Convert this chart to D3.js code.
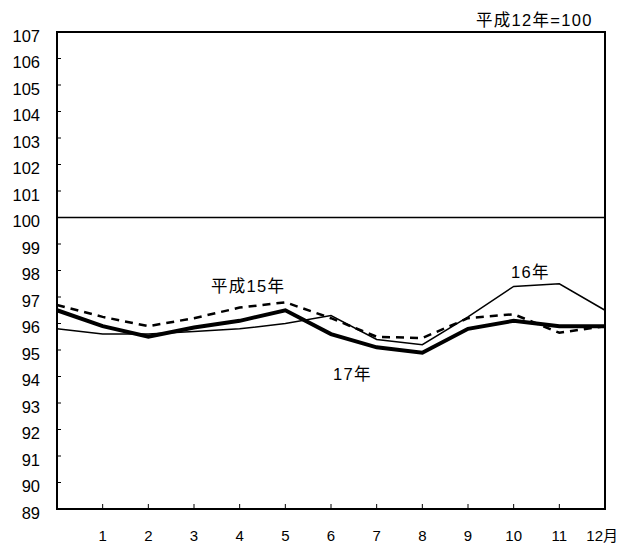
<!DOCTYPE html>
<html><head><meta charset="utf-8">
<script src="https://cdn.jsdelivr.net/npm/d3@7"></script>
<style>body{margin:0;background:#fff}text{font-family:"Liberation Sans",Arial,"Noto Sans CJK JP",sans-serif;fill:#000}</style>
</head><body><svg id="c" width="621" height="545"></svg>
<script>
const positions = [0,1,2,3,4,5,6,7,8,9,10,11,12];
const monthLabels = ["1","2","3","4","5","6","7","8","9","10","11","12月"];
const yTicks = [89,90,91,92,93,94,95,96,97,98,99,100,101,102,103,104,105,106,107];
const h15 = [96.7,96.25,95.9,96.2,96.6,96.8,96.2,95.5,95.45,96.2,96.35,95.65,95.9];
const h16 = [95.8,95.6,95.6,95.7,95.8,96.0,96.3,95.4,95.2,96.25,97.4,97.5,96.5];
const h17 = [96.5,95.9,95.5,95.85,96.1,96.5,95.6,95.1,94.9,95.8,96.1,95.9,95.9];

const svg = d3.select("#c");
const L=57,R=605,T=32,B=509;
const x = d3.scaleLinear().domain([0,12]).range([L,R]);
const y = d3.scaleLinear().domain([89,107]).range([B,T]);

svg.selectAll(".yl").data(yTicks).enter().append("text")
  .attr("x",40).attr("y",d=>y(d)+9.5).attr("text-anchor","end")
  .style("font-size","16.5px").text(d=>d);
svg.selectAll(".yt").data(yTicks).enter().append("line")
  .attr("x1",L).attr("x2",L+4).attr("y1",d=>y(d)).attr("y2",d=>y(d))
  .attr("stroke","#000").attr("stroke-width",1);
svg.selectAll(".xt").data(positions.slice(1)).enter().append("line")
  .attr("x1",d=>x(d)).attr("x2",d=>x(d)).attr("y1",B).attr("y2",B-5)
  .attr("stroke","#000").attr("stroke-width",1);
svg.selectAll(".xl").data(monthLabels).enter().append("text")
  .attr("x",(d,i)=>i===11?618:x(i+1)).attr("y",541)
  .attr("text-anchor",(d,i)=>i===11?"end":"middle")
  .style("font-size","15px").text(d=>d);

svg.append("line").attr("x1",L).attr("x2",R).attr("y1",y(100)).attr("y2",y(100))
  .attr("stroke","#000").attr("stroke-width",1.5);

const line = d3.line().x((d,i)=>x(positions[i])).y(d=>y(d));
svg.append("path").attr("d",line(h16)).attr("fill","none").attr("stroke","#000").attr("stroke-width",1.5);
svg.append("path").attr("d",line(h15)).attr("fill","none").attr("stroke","#000").attr("stroke-width",2.5).attr("stroke-dasharray","8,6");
svg.append("path").attr("d",line(h17)).attr("fill","none").attr("stroke","#000").attr("stroke-width",4);

svg.append("rect").attr("x",L).attr("y",T).attr("width",R-L).attr("height",B-T)
  .attr("fill","none").attr("stroke","#000").attr("stroke-width",2);

const ann = [
  {t:"平成12年=100", x:476, y:26},
  {t:"平成15年", x:211, y:292},
  {t:"16年", x:511, y:278},
  {t:"17年", x:333, y:380}
];
svg.selectAll(".ann").data(ann).enter().append("text")
  .attr("x",d=>d.x).attr("y",d=>d.y).style("font-size","16.5px").style("letter-spacing","1.3px").text(d=>d.t);
</script></body></html>
